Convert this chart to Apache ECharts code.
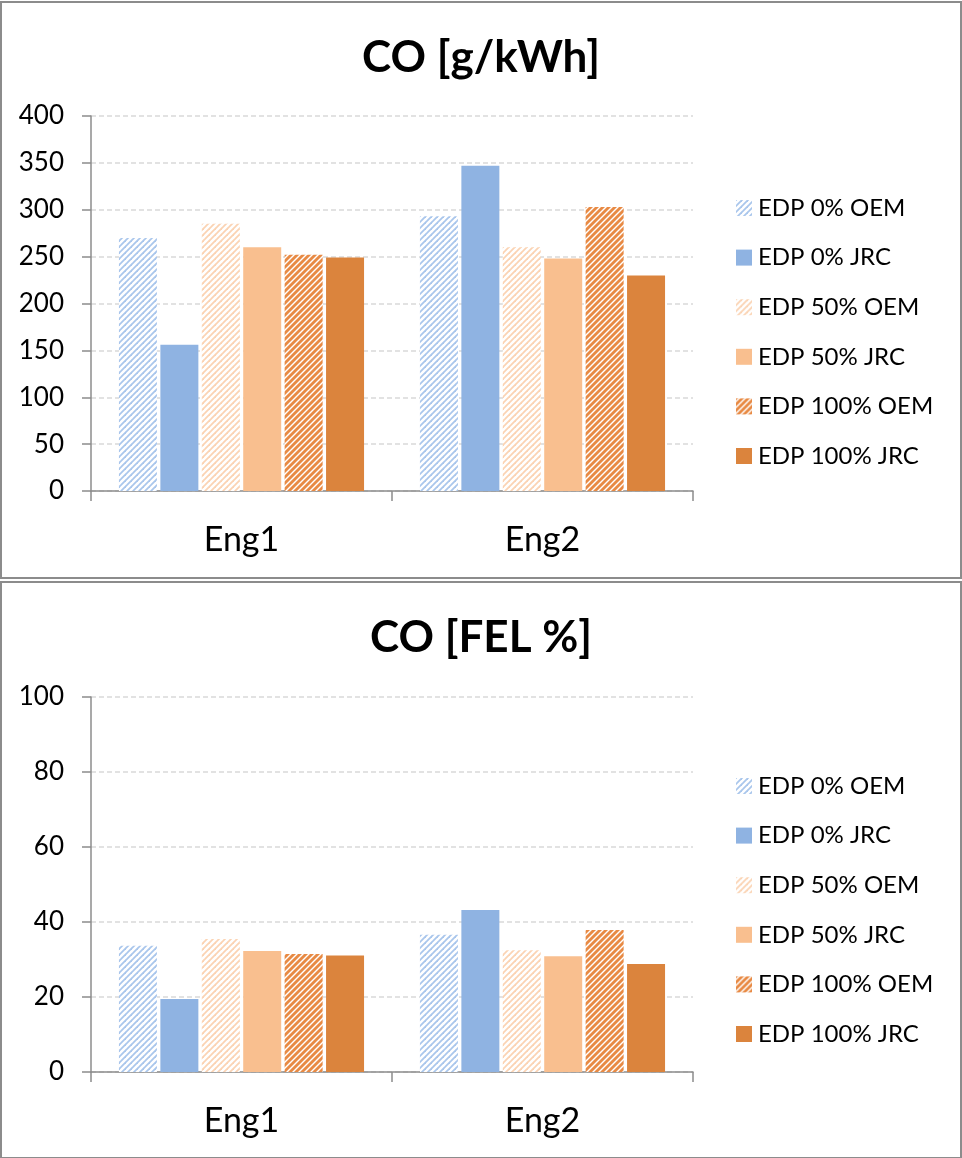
<!DOCTYPE html>
<html>
<head>
<meta charset="utf-8">
<script src="https://cdn.jsdelivr.net/npm/echarts@6/dist/echarts.min.js"></script>
<style>
  html, body { margin: 0; padding: 0; background: #fff; }
  #chart { width: 962px; height: 1158px; }
</style>
</head>
<body>
<div id="chart"></div>
<script>
// Engines on the category axis
const categories = ['Eng1', 'Eng2'];

// Series names (legend order)
const seriesNames = ['EDP 0% OEM', 'EDP 0% JRC', 'EDP 50% OEM', 'EDP 50% JRC', 'EDP 100% OEM', 'EDP 100% JRC'];

// CO emissions in g/kWh, per series: [Eng1, Eng2]
const coGkwh = [
  [270, 293],
  [156, 347],
  [285, 260],
  [260, 248],
  [252, 303],
  [249, 230]
];

// CO as percentage of the FEL, per series: [Eng1, Eng2]
const coFel = [
  [33.7, 36.6],
  [19.5, 43.2],
  [35.5, 32.5],
  [32.3, 30.9],
  [31.5, 37.9],
  [31.1, 28.8]
];

const FONT = 'Lato, "Open Sans", sans-serif';

// Diagonal hatch fill (stripes rising to the right on white)
function hatch(color, size, lw) {
  const c = document.createElement('canvas');
  c.width = size; c.height = size;
  const g = c.getContext('2d');
  g.fillStyle = '#ffffff';
  g.fillRect(0, 0, size, size);
  g.strokeStyle = color;
  g.lineWidth = lw;
  for (const k of [-size, 0, size]) {
    g.beginPath();
    g.moveTo(k - 1, size + 1);
    g.lineTo(k + size + 1, -1);
    g.stroke();
  }
  return { image: c, repeat: 'repeat' };
}

const fills = [
  hatch('#a9c6ec', 6, 1.8),
  '#8fb3e2',
  hatch('#fbd3b3', 6, 1.8),
  '#f9bf8f',
  hatch('#e88a44', 6, 2.8),
  '#db843d'
];

const panels = [
  { title: 'CO [g/kWh]', data: coGkwh, max: 400, interval: 50, gridTop: 116, legendTop: 191, titleTop: 31 },
  { title: 'CO [FEL %]', data: coFel, max: 100, interval: 20, gridTop: 697, legendTop: 769, titleTop: 611 }
];

const option = {
  animation: false,
  backgroundColor: '#ffffff',
  title: panels.map(p => ({
    text: p.title,
    left: 'center',
    top: p.titleTop,
    textStyle: { fontFamily: FONT, fontSize: 44, fontWeight: 'bold', color: '#000' }
  })),
  legend: panels.map((p, i) => ({
    data: seriesNames.map(n => ({ name: n, icon: 'rect' })),
    orient: 'vertical',
    left: 731,
    top: p.legendTop,
    itemWidth: 16,
    itemHeight: 16,
    itemGap: 25.6,
    selectedMode: false,
    textStyle: { fontFamily: FONT, fontSize: 24, color: '#000', padding: [0, 0, 0, 1] }
  })),
  grid: panels.map(p => ({ left: 91, width: 602, top: p.gridTop, height: 375 })),
  xAxis: panels.map((p, i) => ({
    type: 'category',
    gridIndex: i,
    data: categories,
    axisLine: { lineStyle: { color: '#8c8c8c', width: 1.5 } },
    axisTick: { show: true, length: 10, lineStyle: { color: '#8c8c8c', width: 1.5 } },
    axisLabel: { fontFamily: FONT, fontSize: 34, color: '#000', margin: 32 }
  })),
  yAxis: panels.map((p, i) => ({
    type: 'value',
    gridIndex: i,
    min: 0,
    max: p.max,
    interval: p.interval,
    axisLine: { show: true, lineStyle: { color: '#8c8c8c', width: 1.5 } },
    axisTick: { show: true, inside: false, length: 9, lineStyle: { color: '#8c8c8c', width: 1.5 } },
    axisLabel: { fontFamily: FONT, fontSize: 26, color: '#000', margin: 27 },
    splitLine: { lineStyle: { color: '#d9d9d9', width: 1.5, type: [5, 3] } }
  })),
  series: [],
  graphic: [
    { type: 'rect', shape: { x: 1, y: 2, width: 960, height: 576 }, style: { fill: 'none', stroke: '#8c8c8c', lineWidth: 2 }, z: 100 },
    { type: 'rect', shape: { x: 1, y: 582, width: 960, height: 576 }, style: { fill: 'none', stroke: '#8c8c8c', lineWidth: 2 }, z: 100 }
  ]
};

panels.forEach((p, i) => {
  seriesNames.forEach((name, s) => {
    option.series.push({
      name: name,
      type: 'bar',
      xAxisIndex: i,
      yAxisIndex: i,
      data: p.data[s],
      barWidth: 38,
      barGap: '9%',
      itemStyle: { color: fills[s] }
    });
  });
});

const chart = echarts.init(document.getElementById('chart'), null, { renderer: 'canvas' });
chart.setOption(option);
</script>
</body>
</html>
